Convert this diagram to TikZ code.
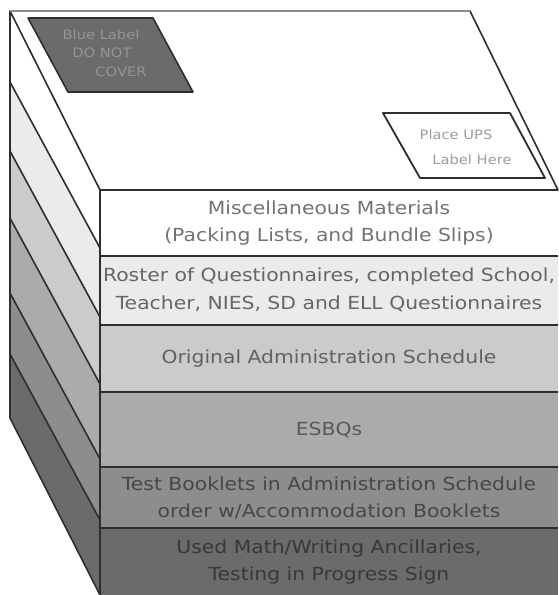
\documentclass[tikz,border=0pt]{standalone}
\usepackage{fontspec}
\setmainfont[FakeStretch=1.13]{DejaVu Sans}
\definecolor{layA}{HTML}{FFFFFF}
\definecolor{layB}{HTML}{EBEBEB}
\definecolor{layC}{HTML}{CBCBCB}
\definecolor{layD}{HTML}{ABABAB}
\definecolor{layE}{HTML}{8D8D8D}
\definecolor{layF}{HTML}{6B6B6B}
\definecolor{ink}{HTML}{2E2E2E}
\tikzset{
	edge/.style={draw=ink, line width=1.6pt},
	layertext/.style={align=center, font=\fontsize{18}{27.5}\selectfont},
	labeltext/.style={font=\fontsize{13}{15}\selectfont, inner sep=0pt}
}
\begin{document}
\begin{tikzpicture}[x=1pt,y=-1pt,line join=round]
	\useasboundingbox (0,0) rectangle (558,595);
	% side of the box
	\fill[layA] (10,11)--(100,190)--(100,248)--(10,82)--cycle;
	\fill[layB] (10,82)--(100,248)--(100,317)--(10,151)--cycle;
	\fill[layC] (10,151)--(100,317)--(100,384)--(10,218)--cycle;
	\fill[layD] (10,218)--(100,384)--(100,459)--(10,293)--cycle;
	\fill[layE] (10,293)--(100,459)--(100,520)--(10,354)--cycle;
	\fill[layF] (10,354)--(100,520)--(100,595)--(10,418)--cycle;
	\foreach \y in {82,151,218,293,354} \draw[edge] (10,\y)--(100,\y+166);
	\draw[edge] (10,11)--(10,418)--(100,595);
	% front layers
	\fill[layA] (100,190) rectangle (558,256);
	\fill[layB] (100,256) rectangle (558,325);
	\fill[layC] (100,325) rectangle (558,392);
	\fill[layD] (100,392) rectangle (558,467);
	\fill[layE] (100,467) rectangle (558,528);
	\fill[layF] (100,528) rectangle (558,595);
	\foreach \y in {256,325,392,467,528} \draw[edge] (100,\y)--(558,\y);
	\draw[edge] (100,190)--(100,595);
	\node[layertext, text=black!55] (misc) at (329,223) {Miscellaneous Materials\\(Packing Lists, and Bundle Slips)};
	\node[layertext, text=black!60] (roster) at (329,290) {Roster of Questionnaires, completed School,\\Teacher, NIES, SD and ELL Questionnaires};
	\node[layertext, text=black!62] (orig) at (329,359) {Original Administration Schedule};
	\node[layertext, text=black!65] (esbq) at (329,430) {ESBQs};
	\node[layertext, text=black!72] (booklets) at (329,498) {Test Booklets in Administration Schedule\\order w/Accommodation Booklets};
	\node[layertext, text=black!78] (ancil) at (329,562) {Used Math/Writing Ancillaries,\\Testing in Progress Sign};
	% top of the box
	\filldraw[fill=white, edge] (10,11)--(470,11)--(558,190)--(100,190)--cycle;
	\draw[black!45, line width=2.5pt] (10,11)--(470,11);
	\filldraw[fill=layF, edge] (28,18)--(153,18)--(193,92)--(68,92)--cycle;
	\node[labeltext, text=black!42] (blue1) at (101,35) {Blue Label};
	\node[labeltext, text=black!42] (blue2) at (102,53) {DO NOT};
	\node[labeltext, text=black!42] (blue3) at (121,72) {COVER};
	\draw[edge, line width=1.8pt] (383,113)--(510,113)--(545,178)--(420,178)--cycle;
	\node[labeltext, text=black!38] (ups1) at (456,135) {Place UPS};
	\node[labeltext, text=black!38] (ups2) at (472,160) {Label Here};
\end{tikzpicture}
\end{document}
